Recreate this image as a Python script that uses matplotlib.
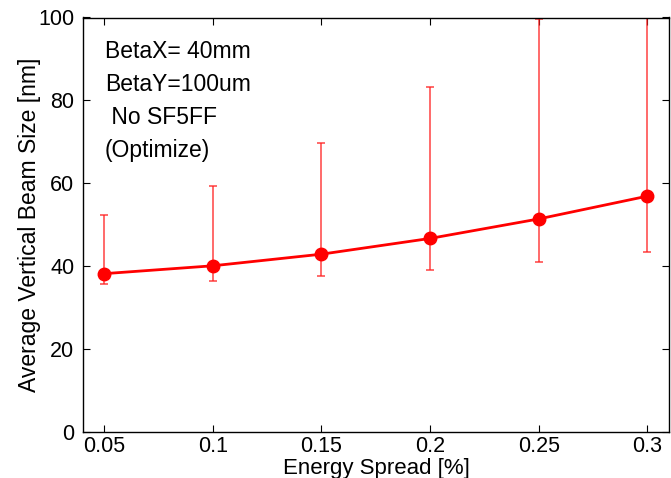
import matplotlib
matplotlib.use("Agg")
import matplotlib.pyplot as plt

# energy spread [%] vs average vertical beam size [nm]
energy_spread = [0.05, 0.10, 0.15, 0.20, 0.25, 0.30]
beam_size = [38.2, 40.1, 42.9, 46.7, 51.4, 56.9]
err_low = [35.7, 36.5, 37.6, 39.0, 40.9, 43.4]
err_high = [52.4, 59.3, 69.8, 83.2, 99.6, 110.0]

notes = ["BetaX= 40mm", "BetaY=100um", " No SF5FF", "(Optimize)"]

plt.rcParams["font.family"] = ["Liberation Sans", "DejaVu Sans"]

W, H = 671, 478
fig = plt.figure(figsize=(W / 100, H / 100), dpi=100)
ax = fig.add_axes([82.5 / W, 1 - 432 / H, (669 - 82.5) / W, (432 - 17.5) / H])

lower = [b - lo for b, lo in zip(beam_size, err_low)]
upper = [hi - b for b, hi in zip(beam_size, err_high)]
ax.errorbar(energy_spread, beam_size, yerr=[lower, upper], fmt="none",
            ecolor="#ff2020", elinewidth=1.1, capsize=3, capthick=1.1, alpha=0.85)
ax.plot(energy_spread, beam_size, color="red", lw=2, marker="o", ms=9)

ax.set_xlim(0.04, 0.31)
ax.set_ylim(0, 100)
ax.set_xticks(energy_spread)
ax.set_xticklabels(["0.05", "0.1", "0.15", "0.2", "0.25", "0.3"])
ax.set_yticks([0, 20, 40, 60, 80, 100])
ax.tick_params(direction="in", top=True, right=True, length=5, width=0.8,
               labelsize=15.5, pad=6)
ax.tick_params(axis="x", pad=3)
for s in ax.spines.values():
    s.set_linewidth(1.0)

# axis titles placed by hand, the reference packs them tight to the edges
fig.text(376 / W, 4 / H, "Energy Spread [%]", fontsize=16,
         ha="center", va="baseline")
fig.text(29.5 / W, 1 - 225 / H, "Average Vertical Beam Size [nm]", fontsize=16.5,
         rotation=90, ha="center", va="center")

for i, t in enumerate(notes):
    ax.text(105 / W, 1 - (51 + 33.3 * i) / H, t, transform=fig.transFigure,
            fontsize=16.5, va="center", ha="left")

fig.savefig("out.png", dpi=100)
